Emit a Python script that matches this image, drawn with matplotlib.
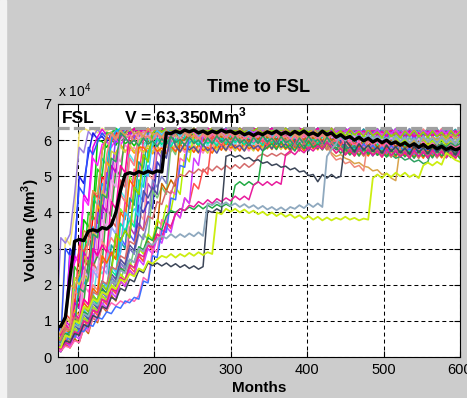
import matplotlib
matplotlib.use('Agg')
import matplotlib.pyplot as plt
from matplotlib import font_manager
from matplotlib.ticker import FixedLocator, FuncFormatter
from matplotlib.patches import Rectangle

# storage volume in thousand Mm3, read every 6 months from month 72 to 600
months = list(range(72, 601, 6))
FSL = 63.35

# common post-fill bands (traces follow one of these once the dam is full)
band0 = [63.3, 62.5, 63.3, 62.8, 63.3, 62.2, 63.3, 62.6, 63.3, 62.0,
         63.3, 62.4, 63.3, 61.8, 63.0, 62.3, 63.3, 62.5, 63.3, 62.0,
         63.3, 62.6, 63.3, 62.2, 63.3, 62.7, 63.3, 62.3, 63.3, 62.5,
         63.3, 62.0, 63.0, 62.4, 63.3, 62.6, 63.3, 62.1, 63.3, 62.5,
         63.3, 62.2, 63.3, 62.6, 63.3, 61.9, 63.1, 62.3, 63.3, 62.6,
         63.3, 62.0, 63.3, 62.4, 63.3, 62.2, 63.3, 61.8, 63.0, 62.3,
         63.3, 61.6, 62.6, 61.2, 63.0, 61.5, 62.4, 61.0, 62.9, 61.3,
         62.2, 60.8, 62.6, 61.0, 62.0, 60.6, 62.5, 61.2, 62.8, 61.0,
         62.3, 60.7, 62.6, 61.0, 62.2, 60.5, 62.7, 61.1, 62.4]
band1 = [62.0, 60.8, 62.5, 61.2, 63.3, 61.5, 62.4, 60.9, 63.0, 61.4,
         62.2, 60.6, 62.8, 61.3, 63.3, 61.7, 62.5, 61.0, 63.1, 61.5,
         62.0, 60.8, 62.7, 61.4, 63.3, 61.8, 62.6, 61.1, 63.2, 61.6,
         62.4, 60.9, 62.9, 61.3, 63.3, 61.6, 62.4, 61.0, 63.0, 61.5,
         62.1, 60.7, 62.8, 61.2, 63.3, 61.7, 62.5, 60.9, 62.9, 61.4,
         62.2, 60.6, 62.8, 61.3, 63.3, 61.5, 62.3, 60.8, 62.7, 61.2,
         61.8, 60.2, 61.5, 59.8, 61.2, 59.6, 61.0, 59.5, 61.6, 60.0,
         61.0, 59.4, 60.7, 59.0, 61.3, 59.6, 60.8, 59.2, 60.5, 58.9,
         61.1, 59.5, 60.6, 59.0, 61.0, 59.3, 60.4, 58.8, 60.9]
band2 = [60.5, 59.2, 61.0, 59.6, 61.8, 60.0, 61.2, 59.5, 62.0, 60.3,
         61.0, 59.4, 61.6, 60.0, 62.3, 60.5, 61.4, 59.8, 62.0, 60.4,
         61.2, 59.6, 61.8, 60.2, 62.5, 60.7, 61.6, 60.0, 62.2, 60.6,
         61.3, 59.7, 62.0, 60.3, 62.6, 60.8, 61.7, 60.1, 62.3, 60.5,
         61.0, 59.5, 61.8, 60.1, 62.4, 60.6, 61.5, 59.9, 62.1, 60.3,
         61.0, 59.3, 61.7, 60.0, 62.2, 60.4, 61.3, 59.7, 61.9, 60.0,
         60.5, 58.8, 60.0, 58.3, 59.6, 57.9, 60.2, 58.5, 59.8, 58.0,
         59.3, 57.6, 59.9, 58.2, 59.5, 57.8, 59.0, 57.3, 59.6, 57.9,
         59.2, 57.5, 58.8, 57.1, 59.4, 57.6, 58.9, 57.2, 59.3]
band3 = [59.0, 57.8, 59.6, 58.2, 60.2, 58.6, 59.8, 58.2, 60.5, 58.8,
         59.6, 58.0, 60.2, 58.6, 60.8, 59.0, 60.0, 58.4, 60.6, 58.9,
         59.8, 58.2, 60.4, 58.8, 61.0, 59.3, 60.2, 58.6, 60.8, 59.1,
         60.0, 58.4, 60.6, 59.0, 61.2, 59.4, 60.4, 58.7, 61.0, 59.2,
         60.1, 58.5, 60.8, 59.1, 61.3, 59.5, 60.5, 58.8, 61.0, 59.3,
         60.0, 58.3, 60.6, 58.9, 61.1, 59.2, 60.2, 58.5, 60.8, 59.0,
         59.3, 57.5, 58.8, 57.0, 58.5, 56.8, 59.0, 57.3, 58.6, 56.9,
         58.1, 56.4, 58.6, 56.9, 58.2, 56.5, 57.8, 56.1, 58.3, 56.6,
         57.9, 56.2, 58.4, 56.7, 58.0, 56.3, 57.6, 55.9, 58.1]
band4 = [57.0, 55.8, 57.6, 56.2, 58.2, 56.6, 57.8, 56.2, 58.5, 56.8,
         57.6, 56.0, 58.2, 56.6, 58.8, 57.0, 58.0, 56.4, 58.6, 56.9,
         57.8, 56.2, 58.4, 56.8, 59.0, 57.3, 58.2, 56.6, 58.8, 57.1,
         58.0, 56.4, 58.8, 57.2, 59.5, 57.8, 58.6, 57.0, 59.3, 57.6,
         58.5, 57.0, 59.2, 57.6, 59.8, 58.0, 59.0, 57.4, 59.6, 57.8,
         58.6, 57.0, 59.3, 57.6, 59.8, 58.0, 58.9, 57.3, 59.5, 57.7,
         58.0, 56.4, 57.6, 55.9, 57.3, 55.6, 57.8, 56.1, 57.4, 55.8,
         57.0, 55.3, 57.5, 55.8, 57.1, 55.4, 56.7, 55.0, 57.2, 55.5,
         56.8, 55.1, 57.3, 55.6, 56.9, 55.2, 56.5, 54.9, 57.0]
band5 = [62.0, 63.3, 62.2, 63.3, 61.8, 63.1, 62.4, 63.3, 62.0, 63.3,
         62.3, 63.3, 61.9, 63.2, 62.5, 63.3, 62.1, 63.3, 62.4, 63.3,
         62.0, 63.3, 62.6, 63.3, 62.2, 63.3, 61.8, 63.2, 62.4, 63.3,
         62.1, 63.3, 62.5, 63.3, 62.0, 63.3, 62.3, 63.3, 61.9, 63.2,
         62.4, 63.3, 62.0, 63.3, 62.6, 63.3, 62.2, 63.3, 61.9, 63.3,
         62.3, 63.3, 62.0, 63.2, 62.5, 63.3, 62.1, 63.3, 62.4, 63.3,
         61.8, 63.0, 61.4, 62.6, 61.6, 63.1, 61.2, 62.5, 61.8, 63.2,
         61.4, 62.7, 61.7, 63.2, 61.2, 62.6, 61.9, 63.1, 61.5, 62.8,
         61.8, 63.2, 61.3, 62.7, 61.9, 63.0, 61.4, 62.6, 61.9]
band6 = [60.0, 61.4, 59.6, 61.0, 60.2, 61.8, 59.8, 61.2, 60.4, 62.0,
         60.2, 61.6, 60.6, 62.2, 60.4, 61.8, 60.8, 62.4, 60.3, 61.9,
         60.6, 62.1, 60.2, 61.7, 60.8, 62.3, 60.4, 61.9, 60.9, 62.4,
         60.5, 62.0, 60.9, 62.4, 60.3, 61.8, 60.7, 62.2, 60.5, 62.0,
         60.6, 62.1, 60.2, 61.7, 60.8, 62.3, 60.3, 61.9, 60.6, 62.1,
         60.4, 61.9, 60.7, 62.2, 60.2, 61.7, 60.6, 62.0, 60.3, 61.8,
         59.6, 61.0, 59.2, 60.5, 59.0, 60.6, 58.8, 60.2, 59.3, 60.7,
         58.9, 60.3, 58.6, 60.0, 59.0, 60.4, 58.5, 59.9, 58.8, 60.2,
         58.4, 59.8, 58.9, 60.3, 58.5, 59.9, 58.7, 60.1, 58.3]
bands = [band0, band1, band2, band3, band4, band5, band6]

# filling phase of each simulated trace
mass_colors = ['#f5e66e', '#9b7fe0', '#1a1ae6', '#e600e6', '#00c800', '#00d2d2',
               '#ff0000', '#3050ff', '#ff20ff', '#20d020', '#ff3c3c', '#00b4ff',
               '#ffa500', '#8c3cff', '#ff82c8', '#3ca03c', '#e65a5a', '#5ae6e6',
               '#c800c8', '#82ff3c', '#a0a0ff', '#ff3c96', '#1ea0a0', '#d2d23c',
               '#5a5aff', '#ff8282', '#00a000', '#b43cb4', '#ffa0a0', '#3c3cc8',
               '#e6a0e6', '#78c878', '#ff6400', '#8282c8', '#00e6a0', '#c86400',
               '#ff00a0', '#b4f000', '#5050a0', '#ff5050', '#3cc8ff', '#d23cff',
               '#96d200', '#ff64b4', '#4070ff']
mass_rise = [
    [7, 6, 33, 31, 40, 62],
    [9, 33, 31.5, 34, 45, 58, 56.5],
    [5, 9, 7.5, 30, 28, 50, 48, 56],
    [4, 3, 10, 8.5, 28, 26, 45, 43, 58],
    [6, 5, 9, 7.5, 22, 20, 38, 36, 40, 60],
    [3, 2.5, 8, 6.5, 20, 18, 33, 31, 44, 42, 55, 53, 62],
    [5, 4, 8, 6.5, 16, 14, 27, 25, 39, 37, 50, 48, 60],
    [6, 5, 30, 28, 31, 47, 45, 58, 56],
    [5, 4.5, 10, 28, 26, 29, 44, 42, 55, 53],
    [4, 3.5, 9, 7.5, 25, 23, 26, 40, 38, 52, 50, 62],
    [7, 6, 12, 10.5, 13, 31, 29, 32, 46, 44, 57],
    [3, 2.5, 7, 5.5, 8, 22, 20, 23, 36, 34, 48, 46, 60],
    [6, 5, 9, 7.5, 13, 11.5, 28, 26, 29, 42, 40, 54, 52],
    [4, 3.5, 8, 6.5, 12, 10.5, 25, 23, 26, 40, 38, 51, 49, 61],
    [3, 2.5, 6, 5, 10, 8.5, 20, 18, 21, 34, 32, 45, 43, 56, 54],
    [5, 4, 8, 6.5, 11, 9.5, 15, 27, 25, 28, 26, 41, 39, 52, 50, 62],
    [4, 3.5, 7, 5.5, 10, 8.5, 14, 12.5, 26, 24, 27, 25, 38, 36, 49, 47, 58],
    [2, 1.5, 5, 4, 9, 7.5, 12, 10.5, 16, 25, 23, 26, 36, 34, 46, 44, 56, 54],
    [6, 5, 11, 9.5, 15, 13.5, 29, 27, 30, 28, 42, 40, 53, 51, 62],
    [3, 2.5, 6, 5, 9, 7.5, 13, 11.5, 17, 15.5, 28, 26, 29, 27, 41, 39, 50, 48, 59],
    [5, 4, 7, 6, 11, 9.5, 15, 13.5, 24, 22, 25, 23, 36, 34, 45, 43, 55, 53, 62],
    [4, 3.5, 7, 5.5, 10, 8.5, 13, 11.5, 17, 15.5, 20, 30, 28, 31, 29, 43, 41, 52, 50, 60],
    [3, 2.5, 5, 4, 9, 7.5, 12, 10.5, 16, 14.5, 19, 17.5, 31, 29, 32, 30, 44, 42, 54, 52, 62],
    [7, 6, 11, 9.5, 22, 20, 23, 21, 35, 33, 46, 44, 57],
    [2, 1.5, 4, 3, 8, 6.5, 11, 9.5, 14, 12.5, 18, 16.5, 22, 20.5, 33, 31, 34, 32, 45, 43, 53, 51, 61],
    [5, 4, 8, 6.5, 12, 10.5, 16, 14.5, 20, 18.5, 32, 30, 33, 31, 45, 43, 55, 53, 62],
    [3, 2.5, 6, 5, 10, 8.5, 13, 11.5, 17, 15.5, 21, 19.5, 24, 34, 32, 35, 33, 47, 45, 56, 54, 62],
    [2, 1.5, 5, 4, 8, 6.5, 11, 9.5, 14, 12.5, 17, 15.5, 21, 19.5, 25, 23.5, 36, 34, 37, 35, 48, 46, 57, 55, 62],
    [4, 3.5, 6, 5, 9, 7.5, 13, 11.5, 16, 14.5, 20, 18.5, 23, 21.5, 27, 25.5, 39, 37, 40, 38, 51, 49, 59],
    [3, 2.5, 5, 4, 8, 6.5, 11, 9.5, 15, 13.5, 18, 16.5, 22, 20.5, 26, 24.5, 30, 28.5, 42, 40, 43, 41, 54, 52, 61],
    [6, 5, 9, 7.5, 12, 10.5, 24, 22, 25, 23, 38, 36, 49, 47, 60],
    [2, 1.5, 3.5, 6, 4.5, 9, 7.5, 12, 10.5, 15, 13.5, 18, 16.5, 22, 20.5, 26, 24.5, 30, 28.5, 34, 32.5, 46, 44, 47, 45, 58, 56, 62],
    [5, 4, 8, 6.5, 11, 9.5, 15, 13.5, 19, 17.5, 28, 26, 29, 27, 40, 38, 49, 47, 58],
    [3, 2.5, 5, 4, 8, 6.5, 11, 9.5, 14, 12.5, 18, 16.5, 22, 20.5, 26, 24.5, 30, 28.5, 34, 32.5, 38, 49, 47, 50, 48, 61],
    [4, 3.5, 6, 5, 9, 7.5, 12, 10.5, 16, 14.5, 20, 18.5, 24, 22.5, 37, 35, 38, 36, 49, 47, 57],
    [2, 1.5, 3.5, 2.5, 5, 4, 8, 6.5, 11, 9.5, 14, 12.5, 17, 15.5, 21, 19.5, 24, 22.5, 28, 26.5, 32, 30.5, 36, 48, 46, 49, 47, 60],
    [7, 6, 9, 7.5, 12, 10.5, 16, 14.5, 30, 28, 31, 29, 43, 41, 53, 51, 62],
    [3, 2.5, 5, 4, 8, 6.5, 11, 9.5, 14, 12.5, 17, 15.5, 20, 18.5, 23, 21.5, 26, 24.5, 30, 28.5, 34, 32.5, 38, 36.5, 42, 40.5, 47, 45, 56, 54, 62],
    [4, 3.5, 6, 5, 9, 7.5, 12, 10.5, 15, 13.5, 19, 17.5, 23, 21.5, 27, 25.5, 31, 29.5, 35, 46, 44, 47, 45, 57, 55, 62],
    [3, 2.5, 5, 4, 7, 6, 10, 8.5, 13, 11.5, 16, 14.5, 19, 17.5, 22, 20.5, 25, 23.5, 28, 26.5, 31, 29.5, 34, 32.5, 37, 35.5, 40, 38.5, 44, 42.5, 48, 46.5, 52, 50.5, 61],
    [5, 4, 7, 6, 10, 8.5, 13, 11.5, 17, 15.5, 21, 19.5, 25, 23.5, 29, 40, 38, 41, 39, 52, 50, 60],
    [2, 1.5, 4, 3, 6, 5, 9, 7.5, 12, 10.5, 15, 13.5, 18, 16.5, 21, 19.5, 24, 22.5, 27, 25.5, 30, 28.5, 33, 31.5, 36, 34.5, 40, 38.5, 44, 42.5, 55, 53, 62],
    [6, 5, 8, 7, 11, 9.5, 14, 12.5, 17, 15.5, 20, 18.5, 23, 34, 32, 35, 33, 47, 45, 56, 54, 62],
    [2, 1.8, 3, 2.6, 4.5, 4, 8, 7, 11, 10, 14, 13, 15, 14.2, 15.5, 14.8, 16, 15.4, 17, 22, 21, 30, 29, 38, 37, 46, 45, 55, 54, 62],
    [3, 4.5, 4, 6, 5.5, 7.5, 7, 9, 8.5, 11, 10.5, 12.5, 12, 14, 13.5, 15.5, 15, 16.5, 16, 21, 20.5, 28, 27.5, 35, 34.5, 44, 43.5, 53, 52.5, 61],
]
mass_band = [0, 1, 2, 1, 3, 0, 6, 2, 3, 5, 2, 0, 4, 6, 4, 5, 2, 3, 0, 6, 1, 2, 5,
             4, 1, 5, 6, 0, 3, 2, 6, 1, 4, 5, 3, 2, 0, 6, 4, 3, 1, 5, 0, 2, 3]
mass_lag = [0, 1, 0, 2, 0, 1, 0, 2, 1, 0, 1, 2, 0, 1, 1, 1, 3, 2, 3, 2, 3, 4, 2,
            2, 4, 3, 3, 4, 3, 5, 4, 5, 3, 4, 4, 1, 5, 5, 4, 5, 0, 5, 0, 2, 1]

# slow traces that stay below the band
lime_vol = [3, 2.6, 6, 5.4, 10, 9.3, 14, 13.2, 16, 15.3,
            18, 17.2, 19.5, 18.8, 21.5, 20.8, 23, 22.3, 24.5, 23.8,
            26.5, 25.8, 27, 28, 27.5, 28.5, 27.5, 28.5, 27.8, 28.8,
            28, 29, 28.2, 29, 28.5, 40, 39.5, 41, 40.2, 41,
            40, 40.8, 39.8, 40.5, 39.5, 40.2, 39.2, 40, 39, 39.8,
            38.8, 39.5, 38.5, 39.2, 38.2, 39, 38, 38.8, 37.8, 38.6,
            37.8, 38.5, 38, 38.8, 38, 38.5, 37.8, 38.3, 38, 49.5,
            50.5, 49.5, 50.8, 49.8, 51, 50, 51, 49.8, 50.5, 49.5,
            53, 53.8, 53, 54, 53.2, 56.5, 55.5, 54.5, 54]
steel_vol = [4, 3.5, 6, 5.3, 9, 8.2, 12, 11.2, 15, 14.2,
             18, 17.2, 21, 20.2, 24, 23.2, 27, 26.2, 30, 29.2,
             31.5, 31, 32.5, 33.5, 32.8, 34, 33, 34, 33.2, 34.2,
             33.4, 34.5, 33.5, 42.5, 42, 43, 42, 42.8, 41.8, 42.5,
             41.5, 42.3, 41.3, 42, 41, 41.8, 40.8, 41.5, 40.6, 41.4,
             40.5, 41.5, 41, 42, 41.2, 42.4, 41.5, 42.5, 41.5, 55.5,
             57.5, 59, 61.5]
slate_vol = [3, 2.7, 4.5, 4, 6.5, 6, 9, 8.3, 11.5, 10.8,
             14, 13.3, 16.5, 15.8, 19, 18.3, 21.5, 20.8, 24, 23.3,
             26, 25.3, 26, 25.2, 26, 25, 25.8, 24.8, 25.5, 24.5,
             25.2, 24.3, 25, 40.5, 40, 41, 40.2, 55.5, 56, 55.3,
             55.8, 54.8, 55.2, 54.2, 54.6, 53.6, 54, 53, 53.4, 52.5,
             52.8, 51.8, 52.3, 51.2, 51.5, 50.2, 50.5, 48.5, 50.5, 49.5,
             50.5, 49.5, 50, 60]
magenta_vol = [2.5, 2.2, 4, 3.6, 7, 6.4, 10, 9.3, 13, 12.3,
               16, 15.2, 19, 18.2, 22, 21.2, 25.5, 24.7, 28.5, 27.7,
               31, 30.3, 34, 33.2, 37, 36.2, 39.5, 41, 40.5, 42,
               41.5, 43, 42.2, 43.5, 42.5, 43.8, 43, 44, 43.2, 44.5,
               43.5, 44.5, 43.5, 47.5, 48.5, 47.5, 48.5, 47.5, 48.5, 47.8,
               56, 57, 56, 57.5, 56.5, 58, 57, 58.5, 57.5, 59.5]
green_vol = [4, 3.6, 6.5, 5.9, 9, 8.3, 12.5, 11.7, 15, 14.2,
             18.5, 17.7, 21, 20.2, 24.5, 23.7, 27, 26.2, 30.5, 29.7,
             33, 32.2, 36, 35.2, 39, 40.5, 40, 41, 40.5, 41.5,
             40.8, 42, 41, 42, 41.2, 42.2, 41.5, 42.3, 41.6, 47.5,
             48.5, 47.5, 48.5, 47.6, 48.4, 57]
rose_vol = [5, 4.5, 8, 7.3, 11, 10.2, 14, 13.2, 18, 17.2,
            21, 20.2, 25, 24.2, 28, 27.2, 32, 31.2, 36, 35.2,
            39, 38.2, 43, 42.2, 46, 45.2, 49, 50.5, 50, 51.5,
            50.8, 52, 51.2, 52.5, 51.5, 52.8, 51.8, 53, 52, 53.2,
            52.2, 53.5, 52.5, 53.5, 55.5, 56.2, 55.5, 56.3, 55.6, 56.4,
            55.7, 56.5, 59]

# traces that fall away from the band late in the record
tan_vol = [5, 7, 9, 20, 19, 23, 35, 34, 46, 45, 57]
tan_tail = [58, 56.5, 55.5, 56, 55, 54.5, 53.5, 53.8, 52.8, 52.5,
            51.5, 51.8, 50.5, 50.8, 49.5, 48.8, 58.5, 59.5, 58.5, 60,
            59, 60.5, 59.5, 61, 60, 61.2, 60.2, 61.5, 60.5, 61]
salmon_vol = [4, 5, 7, 8, 18, 17, 21, 33, 32, 44, 43, 56]
salmon_tail = [56, 54.5, 55, 53.5, 54, 52.5, 53, 51.5, 60.5, 59.5,
               60.5, 59.2, 60.2, 58.8, 59.8, 58.5, 59.5, 58.2, 59.2, 58,
               59, 57.8, 58.8, 57.5, 58.5, 57.2, 58.2, 57, 58]
lategreen_vol = [3, 4, 6, 7, 9, 19, 18, 22, 34, 33, 45, 44, 55, 54, 62]
lategreen_tail = [57.5, 56.5, 57, 56, 56.5, 55.5, 56, 55, 55.5, 54.5,
                  55, 54, 54.5, 53.5, 54, 58.5, 58, 59, 58.2, 59.2,
                  58.4, 59]

# highlighted trace
black_vol = [8.3, 8.5, 11, 22, 32, 32.5, 32.2, 34.8, 35.2, 34.8,
             35.8, 35.4, 36.5, 40, 46, 50.5, 51, 50.6, 51.3, 50.8,
             51.4, 50.9, 51.5, 51.2, 62, 61.8, 62.5, 62, 62.8, 62.3,
             62.8, 62, 62.5, 61.8, 62.5, 62, 62.8, 62.2, 62.5, 61.8,
             62.3, 61.5, 62, 61.3, 62, 61.5, 62.3, 61.8, 62.5, 61.6,
             62.2, 61.5, 62.4, 61.7, 62.5, 61.5, 62, 61.3, 62.5, 61.5,
             62, 60.8, 61.5, 60.5, 61, 60, 60.8, 59.8, 60.5, 59.5,
             60.2, 59.3, 60, 59, 59.5, 58.6, 59.3, 58.3, 59, 58,
             58.8, 57.8, 58.5, 57.6, 58.3, 57.4, 58, 57.3, 57.8]


def trace(rise, band=None, lag=0, tail_start=None, tail=()):
    v = list(rise)
    if band is not None:
        src = bands[band]
        v += [src[i - lag] for i in range(len(rise), len(months))]
    if tail_start is not None:
        v[tail_start:] = list(tail)
    return [x * 1000 for x in v]


installed = {f.name for f in font_manager.fontManager.ttflist}
tick_font = 'Liberation Sans Narrow' if 'Liberation Sans Narrow' in installed else 'Liberation Sans'
plt.rcParams['font.family'] = ['Liberation Sans', 'DejaVu Sans']
plt.rcParams['mathtext.fontset'] = 'custom'
plt.rcParams['mathtext.rm'] = 'Liberation Sans'
plt.rcParams['mathtext.bf'] = 'Liberation Sans:bold'

fig = plt.figure(figsize=(4.67, 3.98), dpi=100, facecolor='#cccccc')
fig.add_artist(Rectangle((0, 0), 6 / 467, 1, transform=fig.transFigure,
                         color='#f2f2f2', zorder=-10))
ax = fig.add_axes([0.1242, 0.1030, 0.8608, 0.6357])
ax.set_facecolor('white')

lw = 1.1
for col, rise, b, lag in zip(mass_colors, mass_rise, mass_band, mass_lag):
    ax.plot(months, trace(rise, b, lag), color=col, lw=lw, zorder=2)

ax.plot(months, trace(tan_vol, 1, 2, 59, tan_tail), color='#d9a34a', lw=lw, zorder=2)
ax.plot(months, trace(salmon_vol, 2, 0, 60, salmon_tail), color='#f08878', lw=lw, zorder=2)
ax.plot(months, trace(lategreen_vol, 3, 1, 67, lategreen_tail), color='#2ea060', lw=lw, zorder=2)
ax.plot(months, trace(rose_vol, 4, 2), color='#d46a6a', lw=lw, zorder=2)
ax.plot(months, trace(green_vol, 4, 1), color='#22aa44', lw=lw, zorder=2)
ax.plot(months, trace(magenta_vol, 4, 0), color='#e81c9c', lw=lw, zorder=2)
ax.plot(months, trace(slate_vol, 3, 0), color='#3c4658', lw=lw, zorder=2)
ax.plot(months, trace(steel_vol, 1, 0), color='#8fa9bf', lw=lw + 0.2, zorder=2)
ax.plot(months, trace(lime_vol), color='#ccee11', lw=lw + 0.2, zorder=2)

ax.axhline(FSL * 1000, color='#a0a0a0', lw=2.3, linestyle=(0, (3.5, 1.3)), zorder=3)
ax.plot(months, trace(black_vol), color='black', lw=2.4, zorder=4)

ax.set_xlim(74.3, 600)
ax.set_ylim(0, 70000)
ax.xaxis.set_major_locator(FixedLocator([100, 200, 300, 400, 500, 600]))
ax.yaxis.set_major_locator(FixedLocator([0, 10000, 20000, 30000, 40000, 50000, 60000, 70000]))
ax.yaxis.set_major_formatter(FuncFormatter(lambda v, p: f'{v / 10000:g}'))
ax.grid(True, color='black', lw=0.75, linestyle=(0, (3.8, 2.9)), zorder=1)
ax.set_axisbelow(True)
ax.tick_params(direction='in', length=4, width=0.8, top=True, right=True,
               labelsize=10.5, pad=4.5, colors='black')
for lab in ax.get_xticklabels() + ax.get_yticklabels():
    lab.set_fontfamily(tick_font)
for s in ax.spines.values():
    s.set_linewidth(0.8)
    s.set_color('black')

ax.set_title('Time to FSL', fontsize=13, fontweight='bold', pad=8.6)
ax.set_xlabel('Months', fontsize=11, fontweight='bold', labelpad=3)
ax.set_ylabel('Volume (Mm$^{\\mathbf{3}}$)', fontsize=11, fontweight='bold', labelpad=1)
ax.text(0.0, 1.028, 'x 10$^4$', transform=ax.transAxes, fontsize=10,
        ha='left', va='baseline')
ax.text(0.009, 0.925, 'FSL', transform=ax.transAxes, fontsize=12.5,
        fontweight='bold', va='baseline', zorder=6)
ax.text(0.1636, 0.925, 'V = 63,350Mm$^{\\mathbf{3}}$', transform=ax.transAxes,
        fontsize=12.5, fontweight='bold', va='baseline', zorder=6)

fig.savefig('out.png', dpi=100, facecolor=fig.get_facecolor())
